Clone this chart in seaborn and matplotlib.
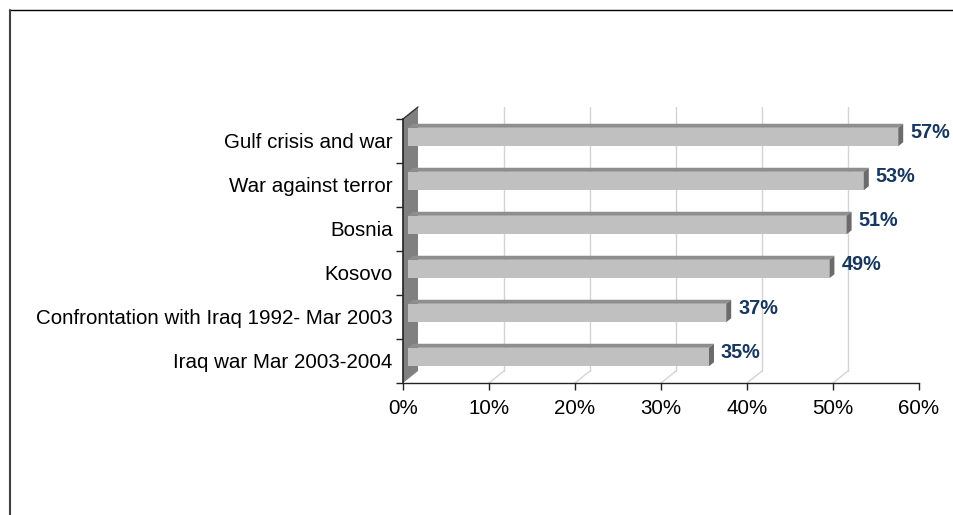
import matplotlib
matplotlib.use("Agg")
import matplotlib.pyplot as plt
from matplotlib.patches import Polygon
from matplotlib.lines import Line2D
import seaborn as sns
import pandas as pd

# Data
categories = ["Gulf crisis and war", "War against terror", "Bosnia", "Kosovo",
              "Confrontation with Iraq 1992- Mar 2003", "Iraq war Mar 2003-2004"]
values = [57, 53, 51, 49, 37, 35]
xticks = [0, 10, 20, 30, 40, 50, 60]
xtick_labels = ["0%", "10%", "20%", "30%", "40%", "50%", "60%"]

sns.set_style("white")
plt.rcParams["font.family"] = ["Liberation Sans", "DejaVu Sans"]
plt.rcParams["text.color"] = "black"
plt.rcParams["xtick.color"] = "black"
plt.rcParams["ytick.color"] = "black"

df = pd.DataFrame({"event": categories, "share": values})

W, H = 954, 515
fig = plt.figure(figsize=(W / 100, H / 100), dpi=100)
# axes box in pixels (front plane)
left_px, right_px, top_px, bot_px = 403, 919, 119, 383
ax = fig.add_axes([left_px / W, 1 - bot_px / H, (right_px - left_px) / W, (bot_px - top_px) / H])

sns.barplot(data=df, x="share", y="event", orient="h", color="#c0c0c0",
            width=0.42, saturation=1, edgecolor="none", linewidth=0, ax=ax)

ax.set_xlim(0, 60)
ax.set_ylim(len(categories) - 0.5, -0.5)

# 3D depth offset (full depth), in data units
px_x = (right_px - left_px) / 60.0
px_y = (bot_px - top_px) / len(categories)
DX = 15 / px_x
DY = 12 / px_y
n = len(categories)

# left wall
wall = Polygon([(0, n - 0.5), (0, -0.5), (DX, -0.5 - DY), (DX, n - 0.5 - DY)],
               closed=True, facecolor="#808080", edgecolor="none", clip_on=False, zorder=1)
ax.add_patch(wall)
ax.add_line(Line2D([0, DX], [-0.5, -0.5 - DY], color="#333333", lw=1, clip_on=False, zorder=2))

# back gridlines and floor lines
for x in xticks[1:-1]:
    ax.add_line(Line2D([x + DX, x + DX], [-0.5 - DY, n - 0.5 - DY], color="#d4d4d4",
                       lw=1, clip_on=False, zorder=0))
    ax.add_line(Line2D([x, x + DX], [n - 0.5, n - 0.5 - DY], color="#d4d4d4",
                       lw=1, clip_on=False, zorder=0))

# make the bars 3D: shift front face, add top and side faces
t0, t1 = 1 / 3, 2 / 3
for p in ax.patches:
    if p is wall:
        continue
    x0 = p.get_x() + t0 * DX
    y0 = p.get_y() - t0 * DY
    w, h = p.get_width(), p.get_height()
    p.set_x(x0)
    p.set_y(y0)
    p.set_zorder(3)
    ddx, ddy = (t1 - t0) * DX, (t1 - t0) * DY
    top = Polygon([(x0, y0), (x0 + w, y0), (x0 + w + ddx, y0 - ddy), (x0 + ddx, y0 - ddy)],
                  closed=True, facecolor="#8e8e8e", edgecolor="none", zorder=3, clip_on=False)
    side = Polygon([(x0 + w, y0), (x0 + w, y0 + h), (x0 + w + ddx, y0 + h - ddy), (x0 + w + ddx, y0 - ddy)],
                   closed=True, facecolor="#6b6b6b", edgecolor="none", zorder=3, clip_on=False)
    ax.add_patch(top)
    ax.add_patch(side)

# value labels
for i, v in enumerate(values):
    ax.text(v + t1 * DX + 7 / px_x, i - 8 / px_y, f"{v}%", ha="left", va="center",
            fontsize=14.3, fontweight="bold", color="#17375e", zorder=5, clip_on=False)

# axes styling
sns.despine(ax=ax, top=True, right=True)
ax.spines["left"].set_color("#222222")
ax.spines["bottom"].set_color("#222222")
ax.spines["left"].set_linewidth(1.2)
ax.spines["bottom"].set_linewidth(1.0)
ax.spines["left"].set_zorder(4)

ax.set_xticks(xticks)
ax.set_xticklabels(xtick_labels)
ax.set_yticks(range(n))
ax.set_yticklabels(categories)
ax.set_yticks([i - 0.5 for i in range(n + 1)], minor=True)
ax.tick_params(axis="x", which="major", direction="out", length=5, width=1,
               color="#222222", labelsize=14.8, pad=6.5, bottom=True)
ax.tick_params(axis="y", which="major", length=0, labelsize=14.8, pad=7.5)
ax.tick_params(axis="y", which="minor", direction="out", length=5, width=1,
               color="#222222", left=True)
ax.set_xlabel("")
ax.set_ylabel("")
ax.grid(False)

# outer frame lines
fig.add_artist(Line2D([9 / W, 1], [1 - 9.5 / H, 1 - 9.5 / H], color="black", lw=1))
fig.add_artist(Line2D([10 / W, 10 / W], [0, 1 - 9.5 / H], color="#404040", lw=1.5))

fig.savefig("out.png", dpi=100)
